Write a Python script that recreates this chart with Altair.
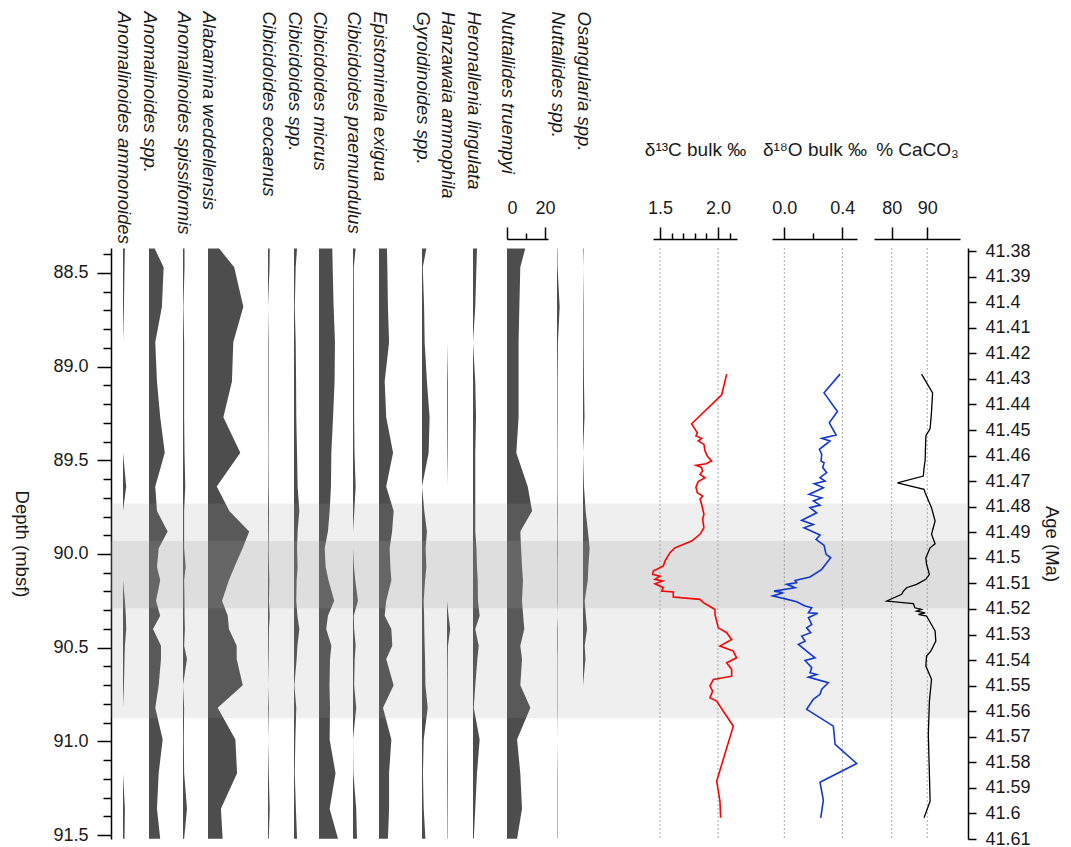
import json
import altair as alt
import pandas as pd

# ---------------- data ----------------
sample_depth = [88.37, 88.47, 88.68, 88.87, 89.08, 89.27, 89.46, 89.64, 89.77, 89.88, 89.97, 90.07,
                90.14, 90.25, 90.33, 90.40, 90.49, 90.56, 90.70, 90.82, 90.99, 91.17, 91.36, 91.52]

species_names = [
    "Anomalinoides ammonoides", "Anomalinoides spp.", "Anomalinoides spissiformis",
    "Alabamina weddellensis", "Cibicidoides eocaenus", "Cibicidoides spp.", "Cibicidoides micrus",
    "Cibicidoides praemundulus", "Epistominella exigua", "Gyroidinoides spp.",
    "Hanzawaia ammophila", "Heronallenia lingulata", "Nuttallides truempyi",
    "Nuttallides spp.", "Osangularia spp.",
]

a_ammonoides = [1.0, 0.8, 0.5, 0.0, 0.0, 0.0, 0.0, 1.7, 0.0, 0.0, 0.0, 0.0,
                0.0, 1.0, 1.5, 1.7, 1.0, 0.8, 0.5, 0.0, 0.0, 0.0, 1.0, 0.8]
a_spp = [3.0, 7.7, 6.8, 3.3, 4.2, 5.9, 8.3, 3.3, 4.2, 9.8, 5.1, 4.2,
         5.9, 3.7, 5.9, 2.1, 6.3, 6.3, 5.1, 3.3, 7.2, 5.1, 4.2, 5.9]
a_spissiformis = [0.8, 0.8, 0.2, 0.6, 0.6, 0.6, 0.8, 1.2, 0.6, 0.6, 0.6, 1.4,
                  0.6, 0.8, 0.8, 1.0, 0.6, 2.1, 0.0, 0.6, 0.4, 0.6, 2.1, 0.6]
al_weddellensis = [5.9, 13.8, 18.6, 13.3, 12.6, 8.1, 17.0, 4.6, 11.2, 21.7, 18.2, 13.9,
                   11.0, 7.4, 10.4, 11.0, 15.1, 15.1, 18.3, 5.1, 14.4, 15.3, 6.8, 7.7]
c_eocaenus = [0.9, 0.8, 0.0, 0.3, 0.3, 0.3, 0.2, 0.3, 0.5, 0.4, 0.3, 0.5,
              0.7, 0.5, 0.9, 0.5, 0.4, 0.3, 0.0, 0.4, 0.0, 0.4, 0.9, 0.4]
c_spp = [1.6, 0.9, 0.4, 0.9, 1.1, 1.2, 1.6, 1.9, 2.8, 1.9, 1.6, 1.9,
         1.4, 1.2, 1.8, 2.8, 1.8, 1.4, 0.2, 1.2, 0.7, 0.4, 1.0, 1.6]
c_micrus = [7.0, 7.2, 7.7, 8.4, 8.2, 7.4, 6.5, 6.3, 5.6, 4.7, 3.0, 3.5,
            5.0, 8.0, 4.7, 3.8, 6.5, 5.8, 5.5, 5.8, 5.6, 8.7, 5.6, 10.0]
c_praemundulus = [1.4, 0.4, 0.5, 0.5, 0.6, 0.6, 0.8, 1.4, 0.7, 0.0, 0.0, 0.5,
                  1.2, 2.6, 0.4, 0.6, 1.4, 0.9, 0.6, 1.7, 0.0, 0.2, 1.7, 2.1]
e_exigua = [4.2, 4.4, 4.7, 5.3, 3.0, 3.8, 7.4, 3.8, 7.7, 6.9, 5.6, 6.0,
            6.5, 3.8, 3.0, 6.5, 7.0, 3.8, 7.7, 2.1, 6.5, 5.3, 5.3, 4.7]
g_spp = [2.3, 0.4, 1.1, 1.4, 2.6, 4.0, 3.5, 0.0, 1.2, 2.6, 1.9, 2.3,
         1.6, 0.9, 1.1, 1.2, 1.4, 1.6, 1.8, 3.0, 0.9, 0.5, 0.9, 1.8]
h_ammophila = [0.0, 0.0, 0.0, 0.0, 0.4, 0.4, 0.3, 0.0, 0.0, 0.0, 0.0, 0.0,
               0.0, 0.0, 0.8, 1.7, 0.5, 0.4, 0.3, 0.3, 0.3, 0.4, 0.3, 0.2]
h_lingulata = [2.1, 1.8, 1.2, 0.0, 1.2, 1.6, 1.2, 1.2, 1.2, 1.2, 1.8, 2.1,
               2.5, 2.6, 3.5, 1.2, 3.0, 2.3, 1.2, 0.4, 3.5, 2.1, 1.2, 0.4]
n_truempyi = [9.6, 7.0, 6.5, 6.1, 6.1, 6.1, 4.9, 10.9, 13.2, 7.0, 7.4, 7.9,
              8.4, 7.9, 8.5, 9.1, 7.0, 7.9, 7.0, 12.3, 5.3, 7.0, 7.9, 5.3]
n_spp = [0.2, 0.3, 1.4, 0.5, 0.3, 0.3, 0.2, 0.2, 0.3, 0.2, 0.3, 0.2,
         0.2, 0.2, 0.0, 0.3, 0.3, 0.2, 0.2, 0.2, 0.0, 0.2, 0.2, 0.2]
o_spp = [0.3, 0.0, 0.3, 0.3, 0.5, 0.8, 0.0, 0.5, 1.4, 2.6, 3.5, 2.8,
         2.5, 0.9, 1.5, 2.1, 0.9, 1.3, 0.0, 0.0, 0.0, 0.0, 0.0, 0.0]

species_values = [a_ammonoides, a_spp, a_spissiformis, al_weddellensis, c_eocaenus, c_spp,
                  c_micrus, c_praemundulus, e_exigua, g_spp, h_ammophila, h_lingulata,
                  n_truempyi, n_spp, o_spp]

band_top = [89.73, 89.93]
band_bottom = [90.876, 90.29]
band_kind = ["light", "dark"]

d13c_depth = [89.04, 89.15, 89.305, 89.326, 89.353, 89.370, 89.383, 89.397, 89.415, 89.450,
              89.477, 89.504, 89.518, 89.527, 89.539, 89.557, 89.575, 89.593, 89.614, 89.643,
              89.673, 89.691, 89.708, 89.735, 89.788, 89.815, 89.860, 89.895, 89.931, 89.967,
              89.993, 90.038, 90.064, 90.091, 90.109, 90.118, 90.135, 90.144, 90.159, 90.180,
              90.198, 90.203, 90.230, 90.242, 90.260, 90.280, 90.296, 90.322, 90.394, 90.420,
              90.456, 90.491, 90.518, 90.554, 90.580, 90.616, 90.652, 90.669, 90.705, 90.732,
              90.768, 90.785, 90.812, 90.919, 91.212, 91.319, 91.408]
d13c_value = [2.075, 2.032, 1.773, 1.793, 1.822, 1.810, 1.859, 1.830, 1.879, 1.888,
              1.908, 1.945, 1.897, 1.810, 1.859, 1.868, 1.845, 1.888, 1.830, 1.810,
              1.822, 1.868, 1.845, 1.859, 1.879, 1.868, 1.879, 1.845, 1.773, 1.629,
              1.586, 1.543, 1.529, 1.442, 1.437, 1.500, 1.457, 1.523, 1.457, 1.529,
              1.514, 1.615, 1.615, 1.845, 1.874, 1.931, 1.974, 1.974, 2.003, 2.075,
              2.118, 2.017, 2.132, 2.161, 2.075, 2.118, 2.118, 1.960, 1.931, 1.954,
              1.931, 1.989, 2.017, 2.132, 1.989, 2.017, 2.023]

d18o_depth = [89.04, 89.14, 89.24, 89.30, 89.365, 89.383, 89.397, 89.441, 89.468, 89.504,
              89.513, 89.539, 89.566, 89.593, 89.611, 89.625, 89.646, 89.682, 89.700, 89.717,
              89.739, 89.753, 89.780, 89.820, 89.842, 89.860, 89.899, 89.922, 89.954, 90.002,
              90.020, 90.082, 90.123, 90.141, 90.153, 90.162, 90.180, 90.198, 90.207, 90.224,
              90.237, 90.255, 90.278, 90.287, 90.314, 90.317, 90.340, 90.376, 90.394, 90.420,
              90.438, 90.465, 90.482, 90.518, 90.554, 90.568, 90.607, 90.634, 90.643, 90.657,
              90.687, 90.722, 90.749, 90.776, 90.829, 90.919, 91.016, 91.118, 91.218, 91.314,
              91.408]
d18o_value = [0.384, 0.274, 0.366, 0.310, 0.357, 0.258, 0.315, 0.242, 0.258, 0.253,
              0.274, 0.265, 0.292, 0.246, 0.281, 0.207, 0.269, 0.170, 0.258, 0.200,
              0.246, 0.177, 0.223, 0.120, 0.200, 0.136, 0.246, 0.219, 0.274, 0.288,
              0.320, 0.258, 0.177, 0.074, 0.085, 0.017, 0.074, -0.071, -0.007, -0.080,
              -0.007, 0.085, 0.143, 0.189, 0.166, 0.230, 0.166, 0.189, 0.154, 0.182,
              0.120, 0.143, 0.097, 0.154, 0.212, 0.143, 0.189, 0.177, 0.223, 0.166,
              0.303, 0.258, 0.246, 0.200, 0.154, 0.338, 0.350, 0.499, 0.246, 0.269,
              0.251]

caco3_depth = [89.04, 89.14, 89.24, 89.33, 89.37, 89.50, 89.54, 89.584, 89.620, 89.655,
               89.673, 89.753, 89.824, 89.895, 89.945, 89.967, 90.020, 90.055, 90.109, 90.135,
               90.162, 90.180, 90.198, 90.215, 90.251, 90.265, 90.287, 90.296, 90.305, 90.314,
               90.322, 90.331, 90.411, 90.465, 90.518, 90.545, 90.598, 90.669, 90.785, 90.963,
               91.319, 91.408]
caco3_value = [88.4, 91.5, 91.2, 90.8, 89.6, 89.4, 89.1, 88.9, 81.6, 89.1,
               89.4, 91.2, 92.2, 91.2, 92.2, 90.8, 89.6, 89.8, 90.6, 89.6,
               87.0, 84.2, 83.3, 82.8, 78.6, 86.1, 86.5, 88.4, 87.0, 89.4,
               87.5, 89.8, 92.2, 92.4, 91.0, 89.8, 89.6, 91.2, 90.6, 90.3,
               90.8, 89.1]

depth_ticks = [88.4, 88.5, 88.6, 88.7, 88.8, 88.9, 89.0, 89.1, 89.2, 89.3, 89.4, 89.5, 89.6,
               89.7, 89.8, 89.9, 90.0, 90.1, 90.2, 90.3, 90.4, 90.5, 90.6, 90.7, 90.8, 90.9,
               91.0, 91.1, 91.2, 91.3, 91.4, 91.5]
age_ticks = [41.38, 41.39, 41.40, 41.41, 41.42, 41.43, 41.44, 41.45, 41.46, 41.47, 41.48, 41.49,
             41.50, 41.51, 41.52, 41.53, 41.54, 41.55, 41.56, 41.57, 41.58, 41.59, 41.60, 41.61]
truempyi_ticks = [0, 10, 20]
truempyi_major = [0, 20]
d13c_ticks = [1.5, 1.6, 1.7, 1.8, 1.9, 2.0, 2.1]
d13c_major = [1.5, 2.0]
d18o_ticks = [0.0, 0.2, 0.4]
d18o_major = [0.0, 0.4]
caco3_ticks = [80, 90]
caco3_major = [80, 90]

# ---------------- layout / style ----------------
FONT = "Liberation Sans"
TEXT = "#1a1a1a"
FILL = "#4d4d4d"
H = 591
DEPTH_DOM = [88.367, 91.521]
AGE_DOM = [41.3788, 41.61]
PX_PER_PCT = 1.9
AXIS_OFFSET = 9
SPECIES_TITLE_Y = -228
ISO_TITLE_Y = -90
LABEL_SIZE = 18
species_width = [38, 34, 25, 60, 26, 25, 34, 26, 43, 25, 26, 34, 41, 26, 70]
first_lead = 12
NO_FRAME = alt.ViewBackground(stroke="transparent", strokeWidth=0, strokeOpacity=0)

band_df = pd.DataFrame({"top": band_top, "bottom": band_bottom, "kind": band_kind})


def depth_y(field, axis=None):
    return alt.Y(f"{field}:Q",
                 scale=alt.Scale(domain=DEPTH_DOM, reverse=True, nice=False, zero=False),
                 axis=axis)


def bands(axis=None):
    return alt.Chart(band_df).mark_rect(color="#999999", strokeWidth=0).encode(
        y=depth_y("top", axis),
        y2="bottom:Q",
        opacity=alt.Opacity("kind:N", scale=alt.Scale(domain=["light", "dark"], range=[0.16, 0.2]),
                            legend=None),
    )


def top_axis(title, width, kind, title_x=0, ticks=None, majors=None, fmt=None):
    props = dict(orient="top", offset=AXIS_OFFSET, grid=False, title=title,
                 titleFont=FONT, titleColor=TEXT, titleFontWeight="normal")
    if kind == "species":
        props.update(titleAngle=90, titleAlign="left", titleBaseline="middle",
                     titleX=title_x, titleY=SPECIES_TITLE_Y, titleFontStyle="italic",
                     titleFontSize=18.5)
    else:
        props.update(titleAngle=0, titleAlign="center", titleBaseline="middle",
                     titleX=width / 2, titleY=ISO_TITLE_Y, titleFontSize=19)
    if ticks is None:
        props.update(domain=False, ticks=False, labels=False)
    else:
        test = "indexof(%s, datum.value) >= 0" % json.dumps(majors)
        props.update(values=ticks, format=fmt, labelExpr=test + " ? datum.label : ''",
                     tickSize={"condition": {"test": test, "value": 12}, "value": 6},
                     domainColor="#000000", domainWidth=1.5, tickColor="#000000", tickWidth=1.5,
                     labelFont=FONT, labelFontSize=LABEL_SIZE, labelColor=TEXT, labelPadding=10,
                     labelOverlap=False)
    return alt.Axis(**props)


depth_major = "abs(datum.value * 2 - round(datum.value * 2)) < 0.01"
depth_axis = alt.Axis(
    orient="left", values=depth_ticks, format=".1f",
    labelExpr=depth_major + " ? datum.label : ''",
    tickSize={"condition": {"test": depth_major, "value": 14}, "value": 8},
    domainColor="#000000", domainWidth=1.5, tickColor="#000000", tickWidth=1.5,
    labelFont=FONT, labelFontSize=LABEL_SIZE, labelColor=TEXT, labelPadding=9,
    labelOverlap=False, grid=False,
    title="Depth (mbsf)", titleAngle=90, titleBaseline="top", titleFont=FONT,
    titleFontSize=18.5, titleFontWeight="normal", titleColor=TEXT, titlePadding=22,
)

age_axis = alt.Axis(
    orient="right", values=age_ticks, format=".2~f", tickSize=8,
    domainColor="#000000", domainWidth=1.5, tickColor="#000000", tickWidth=1.5,
    labelFont=FONT, labelFontSize=LABEL_SIZE, labelColor=TEXT, labelPadding=9,
    labelOverlap=False, grid=False,
    title="Age (Ma)", titleAngle=90, titleBaseline="bottom", titleFont=FONT,
    titleFontSize=18.5, titleFontWeight="normal", titleColor=TEXT, titlePadding=11,
)


def species_panel(i, lead=0):
    name = species_names[i]
    width = species_width[i]
    lo = -lead / PX_PER_PCT
    hi = (width - lead) / PX_PER_PCT
    df = pd.DataFrame({"depth": sample_depth, "pct": species_values[i]})
    if name == "Nuttallides truempyi":
        ax = top_axis(name, width, "species", title_x=lead, ticks=truempyi_ticks,
                      majors=truempyi_major, fmt="d")
    else:
        ax = top_axis(name, width, "species", title_x=lead)
    yaxis = depth_axis if i == 0 else None
    area = alt.Chart(df).mark_area(orient="horizontal", color=FILL).encode(
        x=alt.X("pct:Q", scale=alt.Scale(domain=[lo, hi], nice=False, zero=False), axis=ax,
                stack=None),
        y=depth_y("depth", yaxis),
    )
    return alt.layer(area, bands(yaxis)).properties(width=width, height=H, view=NO_FRAME)


def spacer(width):
    return alt.layer(bands()).properties(width=width, height=H, view=NO_FRAME)


def iso_panel(depths, values, color, stroke_w, width, dom, ticks, majors, fmt, title, grid):
    df = pd.DataFrame({"depth": depths, "v": values})
    gdf = pd.DataFrame({"g": grid})
    xs = alt.Scale(domain=dom, nice=False, zero=False)
    ax = top_axis(title, width, "iso", ticks=ticks, majors=majors, fmt=fmt)
    rules = alt.Chart(gdf).mark_rule(color="#a0a0a0", strokeDash=[2, 2], strokeWidth=0.9).encode(
        x=alt.X("g:Q", scale=xs, axis=ax))
    line = alt.Chart(df).mark_line(color=color, strokeWidth=stroke_w).encode(
        x=alt.X("v:Q", scale=xs, axis=ax),
        y=depth_y("depth"),
        order=alt.Order("depth:Q"),
    )
    return alt.layer(bands(), rules, line).properties(width=width, height=H, view=NO_FRAME)


age_df = pd.DataFrame({"age": age_ticks})
age_layer = alt.Chart(age_df).mark_point(opacity=0).encode(
    y=alt.Y("age:Q", scale=alt.Scale(domain=AGE_DOM, reverse=True, nice=False, zero=False),
            axis=age_axis))
age_panel = alt.layer(bands(), age_layer).resolve_scale(y="independent").properties(
    width=8, height=H, view=NO_FRAME)

panels = [species_panel(0, lead=first_lead)] + [species_panel(i) for i in range(1, 13)]
panels.append(spacer(9))
panels.append(species_panel(13))
panels.append(species_panel(14))
panels.append(iso_panel(d13c_depth, d13c_value, "#ff0000", 1.6, 84, [1.44, 2.164],
                        d13c_ticks, d13c_major, ".1f", "δ¹³C bulk ‰", d13c_major))
panels.append(spacer(35))
panels.append(iso_panel(d18o_depth, d18o_value, "#1238d0", 1.6, 85, [-0.085, 0.501],
                        d18o_ticks, d18o_major, ".1f", "δ¹⁸O bulk ‰", d18o_major))
panels.append(spacer(17))
panels.append(iso_panel(caco3_depth, caco3_value, "#000000", 1.3, 86, [75.03, 99.2],
                        caco3_ticks, caco3_major, "d", "% CaCO₃", caco3_major))
panels.append(age_panel)

chart = alt.hconcat(*panels, spacing=0, bounds="flush").resolve_scale(
    x="independent", y="independent"
).properties(
    padding={"left": 12, "top": 10, "right": 4, "bottom": 4}
).configure_view(strokeWidth=0, stroke="transparent", strokeOpacity=0).configure_axis(
    grid=False
).configure(background="white")

chart.save("out.html", embed_options={"renderer": "svg", "actions": False})
